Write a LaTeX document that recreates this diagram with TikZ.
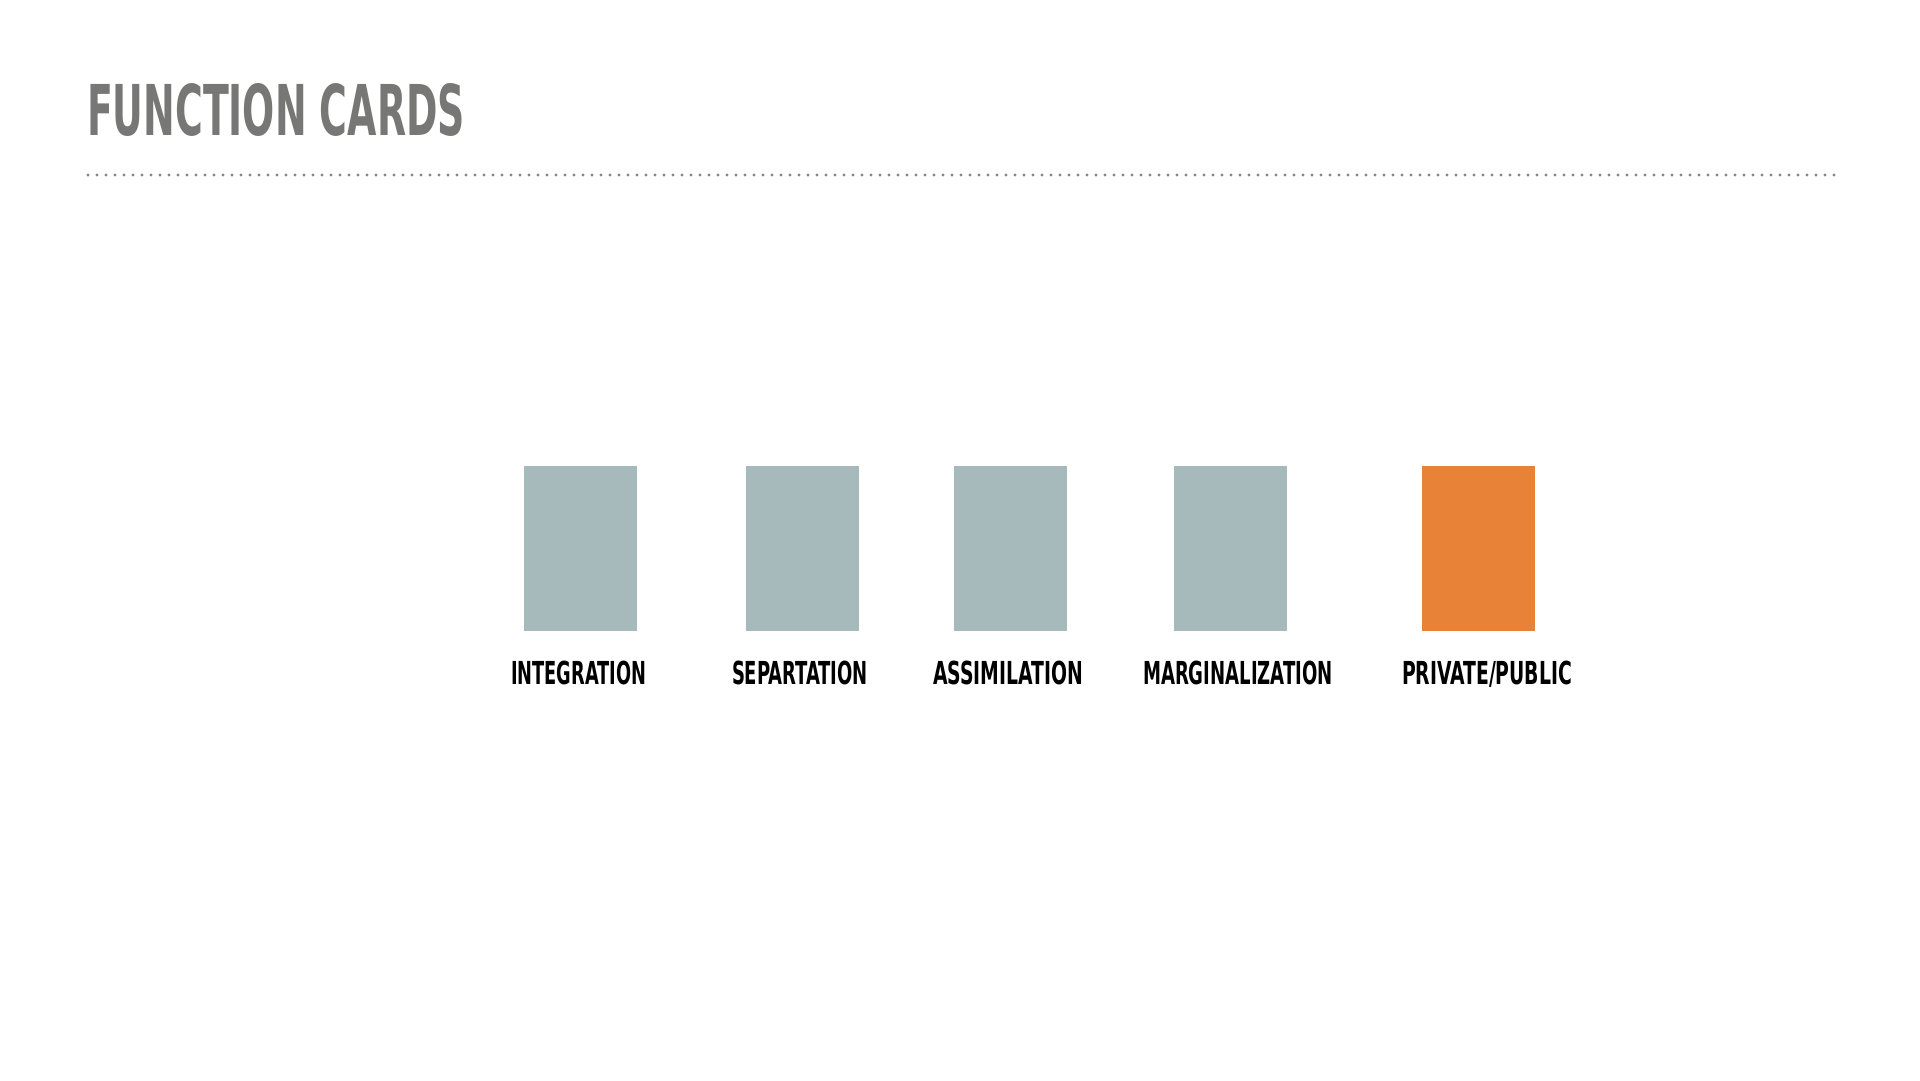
\documentclass[tikz,border=0pt]{standalone}
\usepackage{fontspec}
\setmainfont{DejaVu Sans Condensed}
\usepackage{graphicx}
\definecolor{titlegray}{HTML}{777876}
\definecolor{cardgray}{HTML}{A7BABB}
\definecolor{cardorange}{HTML}{E78236}
\definecolor{dotgray}{HTML}{858684}
\newcommand{\fitlabel}[3]{\resizebox{#1pt}{#2pt}{\bfseries #3}}
\begin{document}
\begin{tikzpicture}[x=1pt,y=-1pt,
  card/.style={rectangle, inner sep=0pt, outer sep=0pt, minimum width=113pt, minimum height=165pt, anchor=north west, fill=cardgray},
  lab/.style={inner sep=0pt, outer sep=0pt, anchor=base west, text=black},
  titletext/.style={inner sep=0pt, outer sep=0pt, anchor=base west, text=titlegray}]
\useasboundingbox (0,0) rectangle (1920,1080);
\fill[white] (0,0) rectangle (1920,1080);
% title
\node[titletext] (title) at (87,135) {\fitlabel{378}{52}{FUNCTION CARDS}};
% dotted rule
\coordinate (ruleL) at (88,175);
\coordinate (ruleR) at (1836,175);
\draw[dotgray, line width=3.3pt, line cap=round, dash pattern=on 0pt off 9pt] (ruleL) -- (ruleR);
% cards
\node[card] (c1) at (524,466) {};
\node[card] (c2) at (746,466) {};
\node[card] (c3) at (954,466) {};
\node[card] (c4) at (1174,466) {};
\node[card, fill=cardorange] (c5) at (1422,466) {};
% labels
\node[lab] (l1) at (511,684) {\fitlabel{135}{23.5}{INTEGRATION}};
\node[lab] (l2) at (732,684) {\fitlabel{136}{23.5}{SEPARTATION}};
\node[lab] (l3) at (933,684) {\fitlabel{150}{23.5}{ASSIMILATION}};
\node[lab] (l4) at (1143,684) {\fitlabel{190}{23.5}{MARGINALIZATION}};
\node[lab] (l5) at (1402,684) {\fitlabel{170}{23.5}{PRIVATE/PUBLIC}};
\end{tikzpicture}
\end{document}
